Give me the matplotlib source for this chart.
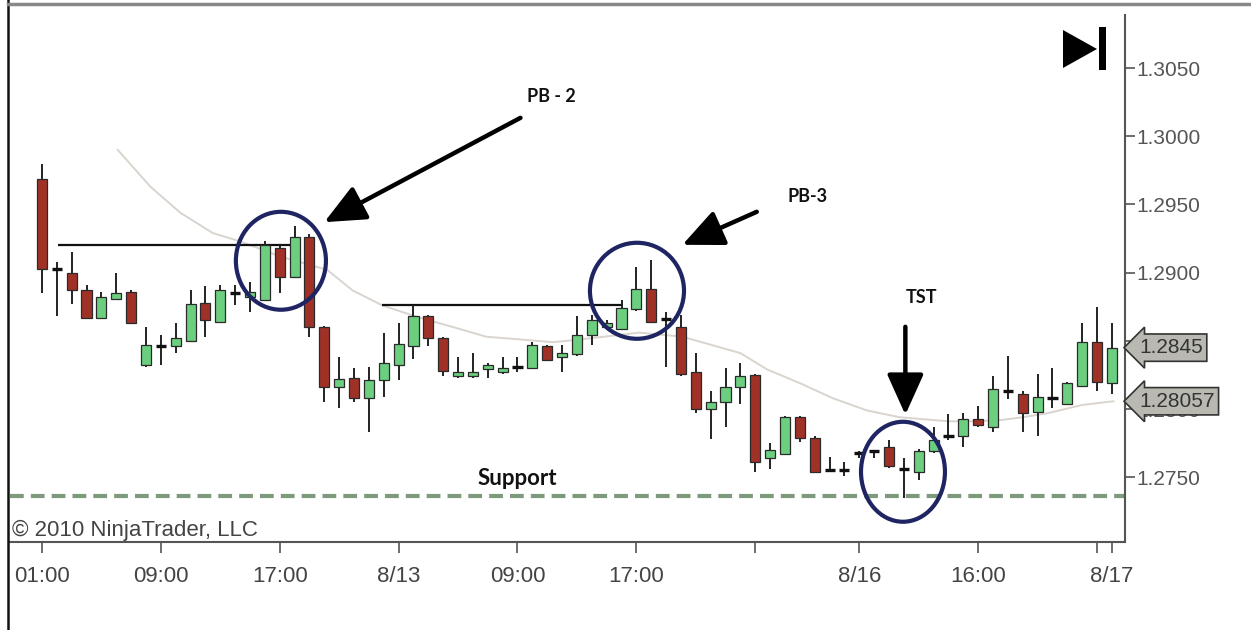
import matplotlib.pyplot as plt
from matplotlib.patches import Ellipse, Polygon, Rectangle
from matplotlib.lines import Line2D

plt.rcParams['font.family'] = ['Liberation Sans', 'DejaVu Sans']

# hourly bars (index 0 = 01:00 on 8/12)
opens = [1.2969, 1.2903, 1.2900, 1.2887, 1.2867, 1.2881, 1.2886, 1.2832, 1.2846, 1.2846,
         1.2850, 1.2878, 1.2864, 1.2885, 1.2882, 1.2880, 1.2918, 1.2897, 1.2926, 1.2860,
         1.2816, 1.2823, 1.2808, 1.2821, 1.2832, 1.2846, 1.2868, 1.2852, 1.2824, 1.2824,
         1.2829, 1.2827, 1.2831, 1.2830, 1.2846, 1.2838, 1.2840, 1.2854, 1.2860, 1.2859,
         1.2873, 1.2888, 1.2866, 1.2860, 1.2827, 1.2800, 1.2805, 1.2816, 1.2825, 1.2764,
         1.2767, 1.2794, 1.2779, 1.2755, 1.2755, 1.2768, 1.2769, 1.2772, 1.2756, 1.2754,
         1.2769, 1.2780, 1.2780, 1.2793, 1.2787, 1.2813, 1.2811, 1.2798, 1.2808, 1.2804,
         1.2817, 1.2849, 1.2819]
highs = [1.2980, 1.2908, 1.2915, 1.2891, 1.2886, 1.2900, 1.2887, 1.2860, 1.2854, 1.2863,
         1.2887, 1.2890, 1.2891, 1.2891, 1.2893, 1.2923, 1.2920, 1.2934, 1.2928, 1.2861,
         1.2838, 1.2830, 1.2831, 1.2856, 1.2863, 1.2876, 1.2869, 1.2853, 1.2838, 1.2841,
         1.2834, 1.2838, 1.2838, 1.2849, 1.2847, 1.2847, 1.2868, 1.2869, 1.2865, 1.2880,
         1.2904, 1.2909, 1.2871, 1.2869, 1.2841, 1.2813, 1.2830, 1.2834, 1.2826, 1.2775,
         1.2795, 1.2795, 1.2780, 1.2765, 1.2761, 1.2769, 1.2770, 1.2777, 1.2764, 1.2771,
         1.2787, 1.2796, 1.2797, 1.2802, 1.2824, 1.2839, 1.2813, 1.2826, 1.2830, 1.2820,
         1.2863, 1.2875, 1.2863]
lows = [1.2885, 1.2868, 1.2877, 1.2866, 1.2866, 1.2880, 1.2862, 1.2831, 1.2832, 1.2841,
        1.2849, 1.2853, 1.2863, 1.2876, 1.2871, 1.2879, 1.2885, 1.2896, 1.2853, 1.2805,
        1.2801, 1.2805, 1.2783, 1.2809, 1.2821, 1.2837, 1.2846, 1.2824, 1.2823, 1.2823,
        1.2823, 1.2826, 1.2827, 1.2829, 1.2835, 1.2827, 1.2839, 1.2847, 1.2858, 1.2858,
        1.2872, 1.2863, 1.2831, 1.2824, 1.2797, 1.2778, 1.2787, 1.2804, 1.2754, 1.2756,
        1.2766, 1.2776, 1.2753, 1.2754, 1.2751, 1.2764, 1.2764, 1.2757, 1.2735, 1.2748,
        1.2768, 1.2777, 1.2772, 1.2787, 1.2783, 1.2807, 1.2783, 1.2780, 1.2801, 1.2803,
        1.2816, 1.2813, 1.2811]
closes = [1.2903, 1.2902, 1.2887, 1.2867, 1.2882, 1.2885, 1.2863, 1.2847, 1.2846, 1.2852,
          1.2877, 1.2865, 1.2887, 1.2886, 1.2886, 1.2920, 1.2897, 1.2926, 1.2860, 1.2816,
          1.2822, 1.2808, 1.2821, 1.2834, 1.2848, 1.2868, 1.2852, 1.2828, 1.2827, 1.2827,
          1.2832, 1.2830, 1.2831, 1.2847, 1.2836, 1.2841, 1.2854, 1.2865, 1.2863, 1.2874,
          1.2888, 1.2864, 1.2866, 1.2826, 1.2800, 1.2805, 1.2816, 1.2824, 1.2761, 1.2770,
          1.2794, 1.2779, 1.2754, 1.2755, 1.2755, 1.2767, 1.2768, 1.2758, 1.2756, 1.2769,
          1.2777, 1.2780, 1.2793, 1.2788, 1.2815, 1.2813, 1.2797, 1.2809, 1.2808, 1.2819,
          1.2849, 1.2820, 1.2845]

# moving average (read at bar positions)
ma_idx = [5.1, 7.3, 9.3, 11.5, 13.3, 16.0, 19.2, 20.9, 22.9, 25.4, 27.7, 29.9, 32.2, 34.4,
          36.2, 37.8, 40.2, 43.1, 47.0, 48.8, 51.0, 53.2, 55.5, 57.7, 61.0, 62.8, 64.6,
          66.0, 67.7, 70.0, 72.1]
ma_val = [1.2990, 1.2963, 1.2944, 1.2929, 1.2923, 1.2912, 1.2902, 1.2887, 1.2876, 1.2867,
          1.2860, 1.2853, 1.2851, 1.2849, 1.2851, 1.2853, 1.2856, 1.2853, 1.2841, 1.2829,
          1.2819, 1.2808, 1.2799, 1.2794, 1.2791, 1.2791, 1.2792, 1.2794, 1.2797, 1.2803,
          1.28057]

tick_idx = [0, 8, 16, 24, 32, 40, 48, 55, 63, 71, 72]
tick_lbl = ['01:00', '09:00', '17:00', '8/13', '09:00', '17:00', '', '8/16', '16:00', '', '8/17']
y_ticks = [1.2750, 1.2800, 1.2850, 1.2900, 1.2950, 1.3000, 1.3050]

support = 1.2736
level_pb2 = 1.2920
level_pb3 = 1.2876
last_price = 1.2845
last_ma = 1.28057

W, H = 1251, 630
fig = plt.figure(figsize=(W / 100, H / 100), dpi=100)
ax = fig.add_axes([10 / W, 88 / H, 1115 / W, 527 / H])
ax.set_xlim(-2.15, 72.88)
ax.set_ylim(1.27025, 1.30889)

red, green, edge = '#9f3126', '#6ccf80', '#2a2a2a'
for i in range(len(opens)):
    o, h, l, c = opens[i], highs[i], lows[i], closes[i]
    ax.vlines(i, l, h, color='#222222', lw=1.4, zorder=2)
    if abs(c - o) < 0.0001:
        ax.hlines(o, i - 0.34, i + 0.34, color='#111111', lw=2.4, zorder=3)
    else:
        ax.bar(i, abs(c - o), bottom=min(o, c), width=0.68,
               color=green if c > o else red, edgecolor=edge, linewidth=0.9, zorder=3)

ax.plot(ma_idx, ma_val, color='#dad4ce', lw=1.4, zorder=1)

ax.axhline(support, color='#7d9a7c', lw=3, ls=(0, (3.3, 1.7)), zorder=1)
ax.hlines(level_pb2, 1.08, 17.2, color='#111111', lw=1.6, zorder=1)
ax.hlines(level_pb3, 22.9, 39.1, color='#111111', lw=1.6, zorder=1)

for cx, cy, w, h in [(16.08, 1.29087, 6.06, 0.00718),
                     (40.04, 1.28867, 6.33, 0.00704),
                     (57.94, 1.27540, 5.65, 0.00733)]:
    ax.add_patch(Ellipse((cx, cy), w, h, fill=False, ec='#1f2463', lw=3, zorder=5))

arrow = dict(arrowstyle='-|>,head_length=1.0,head_width=0.45', lw=3.2,
             color='black', mutation_scale=25, shrinkA=0, shrinkB=0)
ax.annotate('', xy=(19.0, 1.2937), xytext=(32.2, 1.30135), arrowprops=arrow, zorder=6)
ax.annotate('', xy=(43.1, 1.29204), xytext=(48.1, 1.29446), arrowprops=arrow, zorder=6)
ax.annotate('', xy=(58.1, 1.27958), xytext=(58.1, 1.28603), arrowprops=arrow, zorder=6)

lbl = dict(family=['Lato', 'DejaVu Sans'], fontweight='bold', ha='center', va='center',
           color='#111111')
ax.text(34.3, 1.30289, 'PB - 2', fontsize=13, **lbl)
ax.text(51.5, 1.29556, 'PB-3', fontsize=13, **lbl)
ax.text(59.2, 1.28816, 'TST', fontsize=13, **lbl)
ax.text(32.0, 1.27489, 'Support', fontsize=16, **lbl)
ax.text(2 / 1115, 0.022, '\u00a9 2010 NinjaTrader, LLC', transform=ax.transAxes,
        fontsize=16, color='#444444', ha='left', va='center')

ax.spines['top'].set_visible(False)
ax.spines['left'].set_visible(False)
for s in ('bottom', 'right'):
    ax.spines[s].set_color('#555555')
    ax.spines[s].set_linewidth(1.5)

# the 1.2850 label sits under the last-price tag in the original
ax.yaxis.tick_right()
ax.set_yticks(y_ticks)
ax.set_yticklabels(['' if abs(v - 1.2850) < 1e-6 else f'{v:.4f}' for v in y_ticks])
ax.set_xticks(tick_idx)
ax.set_xticklabels(tick_lbl)
ax.tick_params(axis='y', direction='out', length=7, width=1.2, color='#555555',
               labelsize=15, labelcolor='#555555', pad=1)
ax.tick_params(axis='x', direction='out', length=8, width=1.2, color='#555555',
               labelsize=16, labelcolor='#444444', pad=9)

tag = dict(xycoords=('axes fraction', 'data'), textcoords='offset points', ha='left',
           va='center', fontsize=15, color='#333333', annotation_clip=False, zorder=10)
ax.annotate(f'{last_price:.4f}', xy=(1.0, last_price), xytext=(10, 0),
            bbox=dict(boxstyle='larrow,pad=0.2', fc='#b9b9b1', ec='#333333', lw=1.2), **tag)
ax.annotate(f'{last_ma:.5f}', xy=(1.0, last_ma), xytext=(10, 0),
            bbox=dict(boxstyle='larrow,pad=0.2', fc='#b9b9b1', ec='#333333', lw=1.2), **tag)

# play-to-end icon and outer frame
fig.patches.append(Polygon([(1063 / W, 1 - 30 / H), (1063 / W, 1 - 68 / H), (1097 / W, 1 - 49 / H)],
                           closed=True, fc='black', transform=fig.transFigure))
fig.patches.append(Rectangle((1099 / W, 1 - 70 / H), 7 / W, 43 / H, fc='black',
                             transform=fig.transFigure))
fig.lines.append(Line2D([8 / W, 8 / W], [0, 1], color='#111111', lw=1.8, transform=fig.transFigure))
fig.lines.append(Line2D([8 / W, 1], [1 - 4 / H, 1 - 4 / H], color='#888888', lw=2.5,
                        transform=fig.transFigure))

fig.savefig('out.png', dpi=100)
